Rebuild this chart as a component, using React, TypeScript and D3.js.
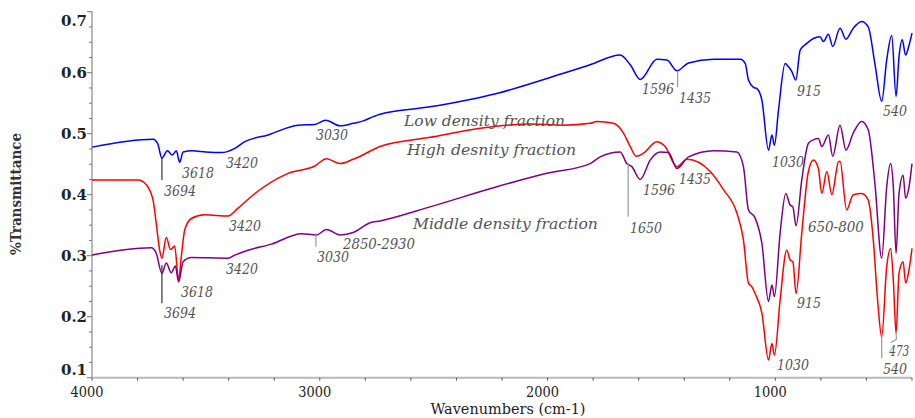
import React, { useEffect, useRef } from 'react';
import * as d3 from 'd3';

// spectra: [wavenumber, transmittance]
const lowDensity: [number, number][] = [
  [4000, 0.478], [3732, 0.491], [3712, 0.484], [3693, 0.46], [3669, 0.472], [3647, 0.465],
  [3630, 0.472], [3615, 0.453], [3600, 0.47], [3560, 0.472], [3500, 0.47], [3432, 0.469],
  [3373, 0.476], [3329, 0.487], [3227, 0.498], [3095, 0.514], [3022, 0.515], [2974, 0.522],
  [2911, 0.513], [2853, 0.517], [2809, 0.521], [2765, 0.528], [2735, 0.532], [2516, 0.544],
  [2223, 0.566], [1930, 0.599], [1813, 0.613], [1681, 0.629], [1637, 0.613], [1593, 0.589],
  [1520, 0.622], [1476, 0.621], [1432, 0.603], [1381, 0.616], [1271, 0.622], [1154, 0.622],
  [1132, 0.615], [1118, 0.588], [1096, 0.576], [1081, 0.574], [1059, 0.555], [1030, 0.473],
  [1015, 0.498], [1004, 0.481], [986, 0.539], [957, 0.615], [943, 0.61], [928, 0.602],
  [910, 0.588], [891, 0.637], [862, 0.648], [833, 0.656], [804, 0.659], [789, 0.651],
  [767, 0.663], [748, 0.643], [716, 0.673], [690, 0.655], [658, 0.673], [621, 0.684],
  [592, 0.675], [563, 0.615], [533, 0.553], [511, 0.621], [489, 0.661], [470, 0.561],
  [457, 0.626], [443, 0.654], [428, 0.629], [413, 0.645], [400, 0.665],
];

const highDensity: [number, number][] = [
  [4000, 0.424], [3798, 0.424], [3761, 0.416], [3732, 0.391], [3718, 0.353], [3703, 0.309],
  [3693, 0.296], [3674, 0.33], [3655, 0.31], [3637, 0.316], [3620, 0.26], [3608, 0.298],
  [3593, 0.342], [3564, 0.361], [3505, 0.367], [3403, 0.365], [3359, 0.378], [3285, 0.402],
  [3139, 0.435], [3022, 0.447], [2971, 0.459], [2911, 0.451], [2853, 0.458], [2735, 0.479],
  [2516, 0.494], [2296, 0.509], [2076, 0.516], [1930, 0.514], [1813, 0.517], [1784, 0.52],
  [1711, 0.517], [1667, 0.501], [1637, 0.479], [1611, 0.463], [1579, 0.468], [1520, 0.487],
  [1484, 0.479], [1432, 0.446], [1388, 0.458], [1286, 0.438], [1227, 0.408], [1169, 0.37],
  [1140, 0.326], [1118, 0.255], [1103, 0.249], [1089, 0.238], [1059, 0.206], [1030, 0.129],
  [1015, 0.156], [1004, 0.137], [979, 0.227], [950, 0.309], [935, 0.293], [923, 0.29],
  [909, 0.238], [884, 0.337], [855, 0.438], [833, 0.457], [811, 0.443], [796, 0.402],
  [774, 0.438], [752, 0.4], [723, 0.454], [716, 0.455], [687, 0.375], [658, 0.4],
  [621, 0.402], [592, 0.391], [570, 0.326], [551, 0.227], [533, 0.167], [511, 0.282],
  [494, 0.312], [482, 0.26], [470, 0.173], [457, 0.271], [439, 0.29], [428, 0.255],
  [413, 0.277], [400, 0.312],
];

const middleDensity: [number, number][] = [
  [4000, 0.301], [3740, 0.313], [3718, 0.304], [3693, 0.271], [3674, 0.288], [3652, 0.272],
  [3634, 0.283], [3620, 0.257], [3600, 0.29], [3564, 0.297], [3403, 0.296], [3373, 0.301],
  [3315, 0.309], [3212, 0.319], [3080, 0.336], [3015, 0.334], [2971, 0.343], [2911, 0.334],
  [2853, 0.338], [2779, 0.354], [2735, 0.357], [2516, 0.38], [2223, 0.413], [2003, 0.435],
  [1813, 0.451], [1769, 0.462], [1681, 0.47], [1652, 0.451], [1630, 0.446], [1593, 0.425],
  [1549, 0.457], [1505, 0.47], [1469, 0.469], [1432, 0.443], [1381, 0.462], [1271, 0.472],
  [1169, 0.47], [1140, 0.446], [1118, 0.375], [1089, 0.362], [1059, 0.32], [1030, 0.225],
  [1015, 0.252], [1004, 0.233], [979, 0.337], [954, 0.402], [935, 0.383], [923, 0.38],
  [909, 0.349], [884, 0.424], [855, 0.484], [833, 0.49], [811, 0.492], [796, 0.479],
  [767, 0.498], [748, 0.463], [716, 0.514], [690, 0.473], [658, 0.501], [621, 0.52],
  [592, 0.506], [563, 0.419], [533, 0.296], [511, 0.413], [494, 0.451], [482, 0.413],
  [470, 0.304], [457, 0.402], [439, 0.432], [428, 0.394], [413, 0.413], [400, 0.451],
];

const series = [
  { name: 'low', color: '#0000ff', values: lowDensity },
  { name: 'high', color: '#ff0000', values: highDensity },
  { name: 'middle', color: '#800080', values: middleDensity },
];

const yTicks = [0.1, 0.2, 0.3, 0.4, 0.5, 0.6, 0.7];
const xTicks = [4000, 3000, 2000, 1000];

// annotation text, anchored at [wavenumber, transmittance] (left edge, baseline)
const labels: [string, number, number, number?][] = [
  ['3694', 3684, 0.398], ['3618', 3605, 0.427], ['3420', 3412, 0.4438], ['3030', 3017, 0.4897],
  ['Low density fraction', 2630, 0.5126, 161], ['High desnity fraction', 2617, 0.465, 169],
  ['Middle density fraction', 2591, 0.3438, 185],
  ['1596', 1585, 0.565], ['1435', 1423, 0.5503], ['1596', 1581, 0.3995], ['1435', 1423, 0.4176],
  ['1650', 1638, 0.3372], ['915', 905, 0.5618], ['540', 527, 0.529], ['1030', 1015, 0.4454],
  ['650-800', 857, 0.3389, 56], ['915', 905, 0.2143], ['1030', 993, 0.1126], ['540', 527, 0.1061],
  ['473', 500, 0.1356, 20], ['3420', 3399, 0.3405], ['3420', 3412, 0.27], ['3618', 3609, 0.2323],
  ['3694', 3684, 0.198], ['3030', 3012, 0.2897], ['2850-2930', 2898, 0.311, 72],
];

// leader lines: [wn1, t1, wn2, t2, dark]
const leaders: [number, number, number, number, boolean][] = [
  [3693, 0.46, 3693, 0.424, true],
  [3693, 0.2848, 3693, 0.2222, true],
  [1429, 0.603, 1429, 0.576, false],
  [1646, 0.4515, 1646, 0.364, false],
  [3017, 0.3367, 3017, 0.3148, false],
  [533, 0.1672, 533, 0.1318, false],
  [470, 0.173, 468, 0.163, false],
  [468, 0.163, 494, 0.1574, false],
];

const SERIF = 'DejaVu Serif';

export default function App() {
  const ref = useRef<SVGSVGElement>(null);

  useEffect(() => {
    const svg = d3.select(ref.current);
    svg.selectAll('*').remove();

    const x = d3.scaleLinear().domain([4000, 400]).range([92, 912]);
    const y = d3.scaleLinear().domain([0.1, 0.7]).range([377.7, 11.7]);

    // axes lines
    svg.append('line')
      .attr('x1', 92).attr('x2', 92).attr('y1', y(0.7)).attr('y2', y(0.1))
      .attr('stroke', '#b8b8b8').attr('stroke-width', 2);
    svg.append('line')
      .attr('x1', 92).attr('x2', x(400)).attr('y1', y(0.1)).attr('y2', y(0.1))
      .attr('stroke', '#b8b8b8').attr('stroke-width', 2);

    // y ticks
    const yMinor = d3.range(0.1, 0.7001, 0.025);
    svg.selectAll('.ytick')
      .data(yMinor)
      .enter()
      .append('line')
      .attr('x1', (d, i) => (i % 4 === 0 ? 87 : 89))
      .attr('x2', 92)
      .attr('y1', d => y(d))
      .attr('y2', d => y(d))
      .attr('stroke', '#777')
      .attr('stroke-width', 1);

    svg.selectAll('.ylabel')
      .data(yTicks)
      .enter()
      .append('text')
      .attr('x', 87)
      .attr('y', d => y(d) + (d === 0.7 ? 9 : d === 0.1 ? -7.5 : 0))
      .attr('dy', '0.35em')
      .attr('text-anchor', 'end')
      .attr('textLength', 26)
      .attr('lengthAdjust', 'spacing')
      .style('font-family', SERIF)
      .attr('font-weight', 'bold')
      .attr('font-size', 15)
      .attr('fill', '#222')
      .text(d => d.toFixed(1));

    // x ticks
    const xMinor = d3.range(4000, 399, -200);
    svg.selectAll('.xtick')
      .data(xMinor)
      .enter()
      .append('line')
      .attr('x1', d => x(d))
      .attr('x2', d => x(d))
      .attr('y1', y(0.1))
      .attr('y2', y(0.1) + 3)
      .attr('stroke', '#555')
      .attr('stroke-width', 1);

    svg.selectAll('.xlabel')
      .data(xTicks)
      .enter()
      .append('text')
      .attr('x', d => x(d) - 5)
      .attr('y', 397)
      .attr('text-anchor', 'middle')
      .attr('textLength', 33)
      .attr('lengthAdjust', 'spacingAndGlyphs')
      .style('font-family', SERIF)
      .attr('font-size', 15)
      .attr('fill', '#222')
      .text(d => d);

    svg.append('text')
      .attr('x', 508)
      .attr('y', 414)
      .attr('text-anchor', 'middle')
      .attr('textLength', 155)
      .attr('lengthAdjust', 'spacingAndGlyphs')
      .style('font-family', SERIF)
      .attr('font-size', 15)
      .attr('fill', '#222')
      .text('Wavenumbers (cm-1)');

    svg.append('text')
      .attr('transform', 'translate(21,194) rotate(-90)')
      .attr('text-anchor', 'middle')
      .attr('textLength', 122)
      .attr('lengthAdjust', 'spacingAndGlyphs')
      .style('font-family', SERIF)
      .attr('font-weight', 'bold')
      .attr('font-size', 14)
      .attr('fill', '#333')
      .text('%Transmittance');

    // spectra
    const line = d3.line<[number, number]>()
      .x(d => x(d[0]))
      .y(d => y(d[1]))
      .curve(d3.curveMonotoneX);

    svg.selectAll('.spectrum')
      .data(series)
      .enter()
      .append('path')
      .attr('d', d => line(d.values))
      .attr('fill', 'none')
      .attr('stroke', d => d.color)
      .attr('stroke-width', 1.5)
      .attr('stroke-linejoin', 'round');

    // leader lines
    svg.selectAll('.leader')
      .data(leaders)
      .enter()
      .append('line')
      .attr('x1', d => x(d[0]))
      .attr('y1', d => y(d[1]))
      .attr('x2', d => x(d[2]))
      .attr('y2', d => y(d[3]))
      .attr('stroke', d => (d[4] ? '#333' : '#999'))
      .attr('stroke-width', 1.2);

    // annotations
    svg.selectAll('.note')
      .data(labels)
      .enter()
      .append('text')
      .attr('x', d => x(d[1]))
      .attr('y', d => y(d[2]))
      .attr('textLength', d => (d[3] ? d[3] : d[0].length * 8))
      .attr('lengthAdjust', 'spacingAndGlyphs')
      .style('font-family', SERIF)
      .attr('font-style', 'italic')
      .attr('font-size', 15)
      .attr('fill', '#555')
      .text(d => d[0]);
  }, []);

  return (
    <svg
      ref={ref}
      width={915}
      height={418}
      style={{ position: 'absolute', left: 0, top: 0, background: '#fff' }}
    />
  );
}
